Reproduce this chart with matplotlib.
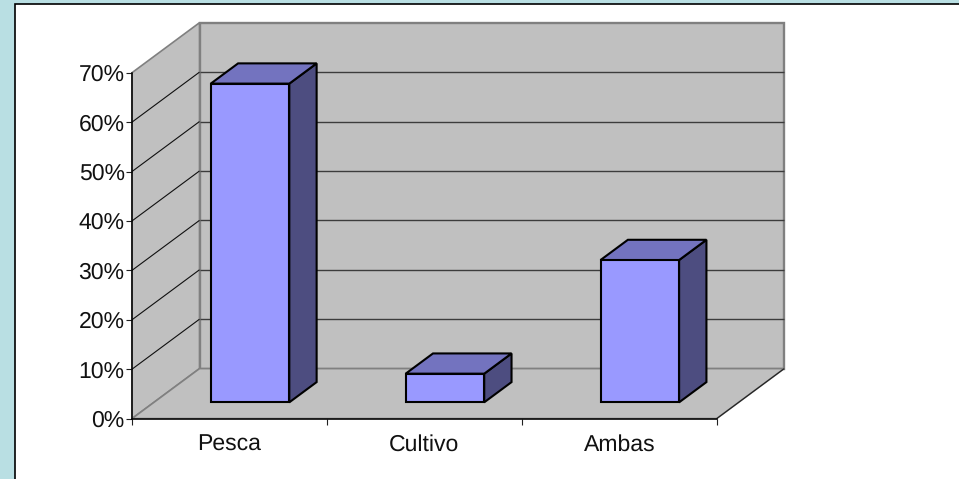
import matplotlib
matplotlib.use('Agg')
import matplotlib.pyplot as plt
from matplotlib.patches import Polygon, Rectangle

categorias = ['Pesca', 'Cultivo', 'Ambas']
valores = [64.5, 5.8, 28.8]
marcas_y = [0, 10, 20, 30, 40, 50, 60, 70]

W, H = 959, 479
plt.rcParams['font.family'] = ['Liberation Sans', 'DejaVu Sans']
plt.rcParams['text.hinting'] = 'no_hinting'
plt.rcParams['text.hinting_factor'] = 1

fig = plt.figure(figsize=(W / 100, H / 100), dpi=100, facecolor='#B9DFE3')

# Panel blanco con borde negro
fig.add_artist(Rectangle((14.5 / W, -0.01), 1.1, 1 - 3.5 / H + 0.01, transform=fig.transFigure,
                         facecolor='white', edgecolor='black', linewidth=1.2, zorder=-1))

# Ejes en pixeles de la figura
x0, x1 = 132.0, 716.7
y0, y1 = 418.6, 72.7
ax = fig.add_axes([x0 / W, 1 - y0 / H, (x1 - x0) / W, (y0 - y1) / H])
ax.set_xlim(0, 3)
ax.set_ylim(0, 70)
ax.patch.set_visible(False)

# Desplazamiento de la profundidad 3D en unidades de datos
prof_x = 67.5 / ((x1 - x0) / 3)
prof_y = 50.0 / ((y0 - y1) / 70)


def proy(x, y, d):
    return (x + d * prof_x, y + d * prof_y)


def cara(puntos, color, borde, lw, z):
    ax.add_patch(Polygon(puntos, closed=True, facecolor=color, edgecolor=borde,
                         linewidth=lw, zorder=z, clip_on=False, joinstyle='miter'))


def linea(a, b, color, lw, z=2):
    ax.plot([a[0], b[0]], [a[1], b[1]], color=color, lw=lw, zorder=z, clip_on=False,
            solid_capstyle='butt')


gris = '#C0C0C0'
borde_gris = '#808080'

# Paredes y piso
cara([proy(0, 0, 1), proy(3, 0, 1), proy(3, 70, 1), proy(0, 70, 1)], gris, borde_gris, 1.7, 1)
cara([proy(0, 0, 0), proy(0, 0, 1), proy(0, 70, 1), proy(0, 70, 0)], gris, borde_gris, 1.2, 1)
cara([proy(0, 0, 0), proy(3, 0, 0), proy(3, 0, 1), proy(0, 0, 1)], gris, borde_gris, 1.2, 1)

# Lineas de cuadricula
for v in marcas_y[1:-1]:
    linea(proy(0, v, 0), proy(0, v, 1), '#101010', 0.8)
    linea(proy(0, v, 1), proy(3, v, 1), '#3C3C3C', 1.0)
linea(proy(3, 0, 0), proy(3, 0, 1), '#202020', 0.8)

# Barras 3D
d_frente, d_fondo = 0.325, 0.73
ancho = 0.403
for i, v in enumerate(valores):
    izq = i + 0.5 - ancho / 2 - 0.007
    der = izq + ancho
    cara([proy(der, 0, d_frente), proy(der, 0, d_fondo), proy(der, v, d_fondo), proy(der, v, d_frente)],
         '#4D4D80', 'black', 1.5, 3)
    cara([proy(izq, v, d_frente), proy(der, v, d_frente), proy(der, v, d_fondo), proy(izq, v, d_fondo)],
         '#7373BF', 'black', 1.5, 3)
    cara([proy(izq, 0, d_frente), proy(der, 0, d_frente), proy(der, v, d_frente), proy(izq, v, d_frente)],
         '#9999FF', 'black', 1.5, 4)

# Ejes frontales
for lado in ['top', 'right']:
    ax.spines[lado].set_visible(False)
for lado in ['left', 'bottom']:
    ax.spines[lado].set_linewidth(1.1)
    ax.spines[lado].set_zorder(5)

ax.set_yticks(marcas_y)
ax.set_yticklabels([f'{v}%' for v in marcas_y], fontsize=16.6, color='#111111')
ax.set_xticks(range(4))
ax.set_xticklabels([])
ax.set_xticks([i + 0.5 for i in range(3)], labels=categorias, minor=True, fontsize=16.6, color='#111111')
ax.tick_params(axis='x', which='minor', length=0, pad=11)
ax.tick_params(axis='both', which='major', length=4, width=0.8, color='#202020')
ax.tick_params(axis='y', pad=1.3)

plt.savefig('out.png', dpi=100, facecolor=fig.get_facecolor())
